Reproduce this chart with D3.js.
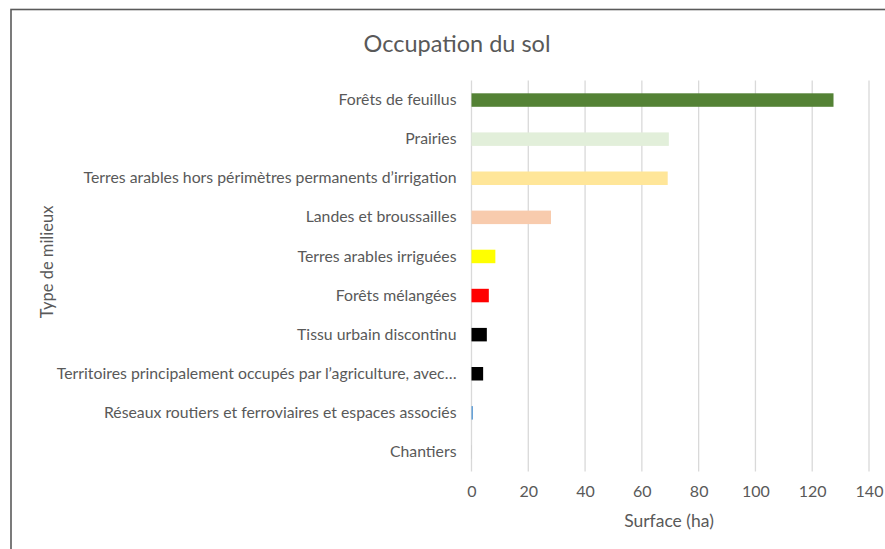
<!DOCTYPE html>
<html>
<head>
<meta charset="utf-8">
<script src="https://cdn.jsdelivr.net/npm/d3@7"></script>
<style>
  body { margin: 0; background: #fff; }
  text { font-family: Lato, "Open Sans", sans-serif; fill: #595959; }
</style>
</head>
<body>
<div id="chart"></div>
<script>
// DATA
var categories = [
	"Forêts de feuillus",
	"Prairies",
	"Terres arables hors périmètres permanents d’irrigation",
	"Landes et broussailles",
	"Terres arables irriguées",
	"Forêts mélangées",
	"Tissu urbain discontinu",
	"Territoires principalement occupés par l’agriculture, avec…",
	"Réseaux routiers et ferroviaires et espaces associés",
	"Chantiers"
];
var surfaces = [127.5, 69.5, 69.1, 28.0, 8.4, 6.1, 5.4, 4.1, 0.5, 0.05];
var barColors = ["#548235", "#e2efda", "#ffe699", "#f8cbad", "#ffff00", "#ff0000", "#000000", "#000000", "#5b9bd5", "#a5a5a5"];
var xTicks = [0, 20, 40, 60, 80, 100, 120, 140];

var width = 885, height = 549;

var svg = d3.select("#chart").append("svg")
	.attr("width", width)
	.attr("height", height);

// outer frame (cropped on right/bottom like the screenshot)
svg.append("rect")
	.attr("x", 11).attr("y", 9.5)
	.attr("width", 1000).attr("height", 1000)
	.attr("fill", "none")
	.attr("stroke", "#5a5a5a")
	.attr("stroke-width", 1.6);

var x = d3.scaleLinear().domain([0, 140]).range([471.5, 869]);
var y = d3.scaleBand().domain(categories).range([80.5, 471.5]).paddingInner(0.655).paddingOuter(0.3275);

// gridlines
svg.append("g")
	.selectAll("line")
	.data(xTicks)
	.join("line")
		.attr("x1", d => x(d)).attr("x2", d => x(d))
		.attr("y1", 80.5).attr("y2", 471.5)
		.attr("stroke", "#d9d9d9")
		.attr("stroke-width", 1.3);

// bars
svg.append("g")
	.selectAll("rect")
	.data(surfaces)
	.join("rect")
		.attr("x", x(0))
		.attr("y", (d, i) => y(categories[i]))
		.attr("width", d => x(d) - x(0))
		.attr("height", y.bandwidth())
		.attr("fill", (d, i) => barColors[i]);

// x axis
var xAxis = svg.append("g")
	.attr("transform", "translate(0,471.5)")
	.call(d3.axisBottom(x).tickValues(xTicks).tickSize(0).tickPadding(14));
xAxis.select(".domain").remove();
xAxis.selectAll("text").style("font-size", "16px").attr("fill", "#595959");

// y axis
var yAxis = svg.append("g")
	.attr("transform", "translate(" + x(0) + ",0)")
	.call(d3.axisLeft(y).tickSize(0).tickPadding(15));
yAxis.select(".domain").remove();
yAxis.selectAll("text").style("font-size", "15.8px").attr("fill", "#595959");

// title
svg.append("text")
	.attr("x", 457).attr("y", 52)
	.attr("text-anchor", "middle")
	.style("font-size", "23.5px")
	.text("Occupation du sol");

// axis titles
svg.append("text")
	.attr("x", 669).attr("y", 527)
	.attr("text-anchor", "middle")
	.style("font-size", "17.5px")
	.text("Surface (ha)");

svg.append("text")
	.attr("transform", "translate(53,262) rotate(-90)")
	.attr("text-anchor", "middle")
	.style("font-size", "16.5px")
	.text("Type de milieux");
</script>
</body>
</html>
